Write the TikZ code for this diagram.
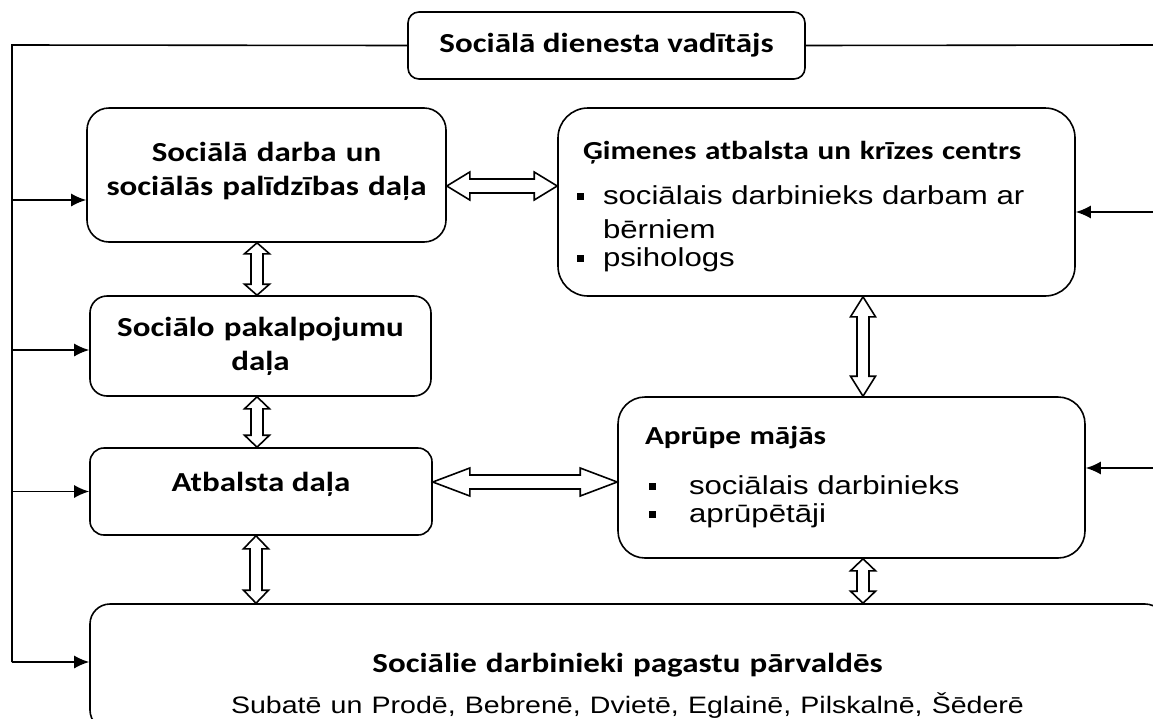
\documentclass[tikz,border=0pt]{standalone}
\usepackage{fontspec}
\setmainfont[FakeStretch=1.2]{Liberation Sans}
\newfontfamily\hdfont[FakeStretch=1.2]{Carlito}
\usetikzlibrary{arrows.meta, calc, positioning}

\newcommand{\bl}[1][43pt]{\makebox[#1][l]{\rule[4.5pt]{7pt}{7pt}}}
\newcommand{\lift}[1]{\rule[-#1]{0pt}{#1}}

\begin{document}
\begin{tikzpicture}[x=1pt, y=-1pt, >={Latex[length=15pt,width=13pt]}, line width=1.6pt,
    box/.style={draw, rounded corners=#1, align=center, inner sep=0pt,
        font=\hdfont\bfseries\fontsize{27.5}{36}\selectfont},
    lbox/.style={draw, rounded corners=#1, align=left, inner ysep=0pt,
        font=\fontsize{26}{28}\selectfont},
    dblv/.style={to path={let \p1=(\tikztostart), \p2=(\tikztotarget) in
        (\x1,\y1) -- (\x1+12.5pt,\y1-#1) -- (\x1+6pt,\y1-#1) -- (\x1+6pt,\y2+#1)
        -- (\x1+12.5pt,\y2+#1) -- (\x1,\y2) -- (\x1-12.5pt,\y2+#1) -- (\x1-6pt,\y2+#1)
        -- (\x1-6pt,\y1-#1) -- (\x1-12.5pt,\y1-#1) -- cycle}},
    dblh/.style={to path={let \p1=(\tikztostart), \p2=(\tikztotarget) in
        (\x1,\y1) -- (\x1+#1,\y1+14pt) -- (\x1+#1,\y1+7pt) -- (\x2-#1,\y1+7pt)
        -- (\x2-#1,\y1+14pt) -- (\x2,\y1) -- (\x2-#1,\y1-14pt) -- (\x2-#1,\y1-7pt)
        -- (\x1+#1,\y1-7pt) -- (\x1+#1,\y1-14pt) -- cycle}}]

    \useasboundingbox (0,0) rectangle (1153,718);
    \clip (0,0) rectangle (1153,718);

    % Nodes
    \node (vad) [box=11pt, minimum width=397pt, minimum height=67pt] at (606.5,45.5) {Sociālā dienesta vadītājs};
    \node (sdd) [box=22pt, minimum width=359pt, minimum height=134pt, text width=340pt] at (266.5,175)
        {Sociālā darba un\\[-2pt]sociālās palīdzības daļa\lift{12pt}};
    \node (pak) [box=17pt, minimum width=341pt, minimum height=100pt, text width=320pt] at (260.5,346)
        {Sociālo pakalpojumu\\[-2pt]daļa};
    \node (atb) [box=14pt, minimum width=342pt, minimum height=87pt] at (261,491.5) {Atbalsta daļa\lift{20pt}};
    \node (gim) [lbox=30pt, inner xsep=19pt, minimum width=517pt, minimum height=188pt, text width=479pt] at (816.5,202)
        {{\hdfont\bfseries\rule{0pt}{28pt}\hspace*{6pt}\mbox{Ģimenes atbalsta un krīzes centrs}}\\[17pt]
         \bl[26pt]\mbox{sociālais darbinieks darbam ar}\\[6pt]
         \hspace*{26pt}bērniem\\
         \bl[26pt]psihologs};
    \node (apr) [lbox=27pt, inner xsep=31pt, minimum width=467pt, minimum height=161pt, text width=405pt] at (851.5,477.5)
        {{\hdfont\bfseries\hspace*{-4pt}Aprūpe mājās}\\[22pt]
         \bl[40pt]\mbox{sociālais darbinieks}\\
         \bl[40pt]aprūpētāji};
    \node (pag) [box=20pt, minimum width=1075pt, minimum height=126pt, text width=1000pt] at (627.5,667)
        {\rule{0pt}{56pt}Sociālie darbinieki pagastu pārvaldēs\\[5pt]
         {\normalfont\fontsize{23.8}{28}\selectfont Subatē un Prodē, Bebrenē, Dvietē, Eglainē, Pilskalnē, Šēderē}};

    \coordinate (lt) at (12,45);
    \coordinate (lb) at (12,662);
    \coordinate (rt) at (1153,45);

    % Links
    \draw (vad.west) -- (lt) -- (lb);
    \draw (vad.east) -- (rt);
    \draw[->] ([yshift=-25pt]sdd.west -| lt) -- ([yshift=-25pt]sdd.west);
    \draw[->] ([yshift=-4pt]pak.west -| lt) -- ([yshift=-4pt]pak.west);
    \draw[->] (atb.west -| lt) -- (atb.west);
    \draw[->] (lb) -- (lb -| pag.west);
    \draw[->] ([yshift=-10pt]gim.east -| rt) -- ([yshift=-10pt]gim.east);
    \draw[->] ([yshift=9.5pt]apr.east -| rt) -- ([yshift=9.5pt]apr.east);

    \draw[fill=white] ([yshift=-11pt]sdd.east) to[dblh=23pt] (gim.west);
    \draw[fill=white] ([yshift=9.5pt]atb.east) to[dblh=37pt] (apr.west);
    \draw[fill=white] ([xshift=-9.5pt]sdd.south) to[dblv=11pt] (pak.north);
    \draw[fill=white] ([xshift=-3.5pt]pak.south) to[dblv=12pt] (atb.north);
    \draw[fill=white] ([xshift=-5pt]atb.south) to[dblv=13pt] (pag.north);
    \draw[fill=white] ([xshift=46.5pt]gim.south) to[dblv=20pt] (apr.north);
    \draw[fill=white] ([xshift=11.5pt]apr.south) to[dblv=12pt] (pag.north);
\end{tikzpicture}
\end{document}
